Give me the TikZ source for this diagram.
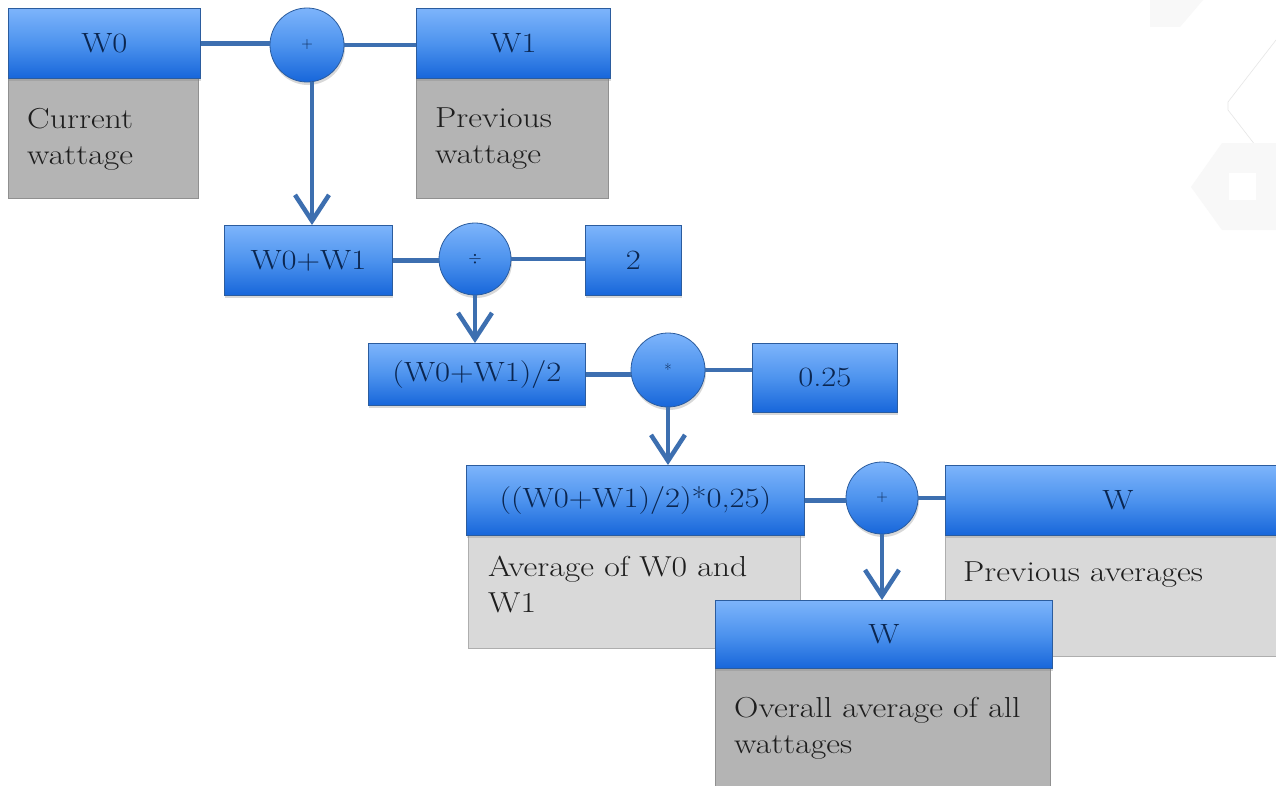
\documentclass[tikz,border=0pt]{standalone}
\usetikzlibrary{arrows.meta,shadows,calc}
\definecolor{hdrtop}{HTML}{7DB4FB}
\definecolor{hdrmid}{HTML}{4D93EE}
\definecolor{hdrbot}{HTML}{1766DA}
\definecolor{bordc}{HTML}{2B5C9E}
\definecolor{navy}{HTML}{0B2650}
\definecolor{greyd}{HTML}{B4B4B4}
\definecolor{greyl}{HTML}{D9D9D9}
\definecolor{conn}{HTML}{3D6FB0}
\definecolor{bodytext}{HTML}{1E1E1E}
\definecolor{wm}{HTML}{F8F8F8}
\definecolor{wmline}{HTML}{E6E6E6}
\newcommand\sx[1]{\scalebox{1.17}[1]{#1}}
\tikzset{
  hdr/.style={rectangle, draw=bordc, line width=0.8bp, top color=hdrtop, bottom color=hdrbot, middle color=hdrmid,
    inner sep=0pt, text=navy, font=\fontsize{28}{32}\selectfont, anchor=north west,
    drop shadow={shadow xshift=1bp, shadow yshift=-3bp, opacity=0.3}},
  opc/.style={circle, draw=bordc, line width=0.8bp, top color=hdrtop, bottom color=hdrbot, middle color=hdrmid,
    inner sep=0pt, minimum size=74bp, text=navy, font=\fontsize{16}{18}\selectfont,
    drop shadow={shadow xshift=1bp, shadow yshift=-3bp, opacity=0.3}},
  bodyd/.style={rectangle, fill=greyd, draw=greyd!80!black, line width=0.3bp, inner sep=0pt, anchor=north west},
  bodyl/.style={rectangle, fill=greyl, draw=greyl!80!black, line width=0.3bp, inner sep=0pt, anchor=north west},
  btxt/.style={anchor=north west, inner sep=0pt, align=left, text=bodytext, font=\fontsize{29}{36}\selectfont, xscale=1.17},
  link/.style={draw=conn, line width=4.5bp},
  arr/.style={draw=conn, line width=4.5bp, -{Straight Barb[length=26bp,width=34bp]}}
}
\begin{document}
\begin{tikzpicture}[x=1bp,y=-1bp]
\clip (0,0) rectangle (1276,786);
\fill[white] (0,0) rectangle (1276,786);
% faint watermark
\fill[wm] (1150,0) -- (1203,0) -- (1180,27) -- (1150,27) -- cycle;
\draw[wmline, line width=0.6bp] (1276,40) -- (1228,102) -- (1228,110) -- (1276,172);
\fill[wm] (1222,143) -- (1290,143) -- (1290,230) -- (1222,230) -- (1191,187) -- cycle;
\fill[white] (1229,173) rectangle (1256,200);

% top row
\node[bodyd, minimum width=190bp, minimum height=120bp] (w0b) at (8,78) {};
\node[btxt] (w0t) at (27,108) {Current\\wattage};
\node[hdr, minimum width=192bp, minimum height=70bp] (w0) at (8,8) {\sx{W0}};
\node[bodyd, minimum width=192bp, minimum height=120bp] (w1b) at (416,78) {};
\node[btxt] (w1t) at (435,108) {Previous\\wattage};
\node[hdr, minimum width=194bp, minimum height=70bp] (w1) at (416,8) {\sx{W1}};
\node[opc] (p1) at (307,45) {+};
\draw[link] (w0.east) -- (w0.east -| p1.west);
\draw[link] (p1.east) -- (p1.east -| w1.west);

% second row
\node[hdr, minimum width=168bp, minimum height=70bp] (sum) at (224,225) {\sx{W0+W1}};
\node[hdr, minimum width=96bp, minimum height=70bp] (two) at (585,225) {\sx{2}};
\node[opc, minimum size=72bp] (dv) at (475,259) {$\div$};
\draw[link] (sum.east) -- (sum.east -| dv.west);
\draw[link] (dv.east) -- (dv.east -| two.west);
\draw[arr] ($(p1.south)+(5,0)$) -- ($(p1.south |- sum.north)+(5,0)$);

% third row
\node[hdr, minimum width=217bp, minimum height=62bp] (half) at (368,343) {\sx{(W0+W1)/2}};
\node[hdr, minimum width=145bp, minimum height=69bp] (q) at (752,343) {\sx{0.25}};
\node[opc] (mul) at (668,370) {*};
\draw[link] (half.east) -- (half.east -| mul.west);
\draw[link] (mul.east) -- (mul.east -| q.west);
\draw[arr] (dv.south) -- (dv.south |- half.north);

% fourth row
\node[bodyl, minimum width=332bp, minimum height=113bp] (prodb) at (468,535) {};
\node[btxt] (prodt) at (488,556) {Average of W0 and\\W1};
\node[hdr, minimum width=338bp, minimum height=70bp] (prod) at (466,465) {\sx{((W0+W1)/2)*0,25)}};
\node[bodyl, minimum width=345bp, minimum height=121bp] (wpb) at (945,535) {};
\node[btxt] (wpt) at (963,562) {Previous averages};
\node[hdr, minimum width=345bp, minimum height=70bp] (wp) at (945,465) {\sx{W}};
\node[opc, minimum size=72bp] (p2) at (882,498) {+};
\draw[link] (prod.east) -- (prod.east -| p2.west);
\draw[link] (p2.east) -- (p2.east -| wp.west);
\draw[arr] (mul.south) -- (mul.south |- prod.north);

% result
\node[bodyd, minimum width=335bp, minimum height=130bp] (wob) at (715,668) {};
\node[btxt] (wot) at (734,697) {Overall average of all\\wattages};
\node[hdr, minimum width=337bp, minimum height=68bp] (wo) at (715,600) {\sx{W}};
\draw[arr] (p2.south) -- (p2.south |- wo.north);
\end{tikzpicture}
\end{document}
